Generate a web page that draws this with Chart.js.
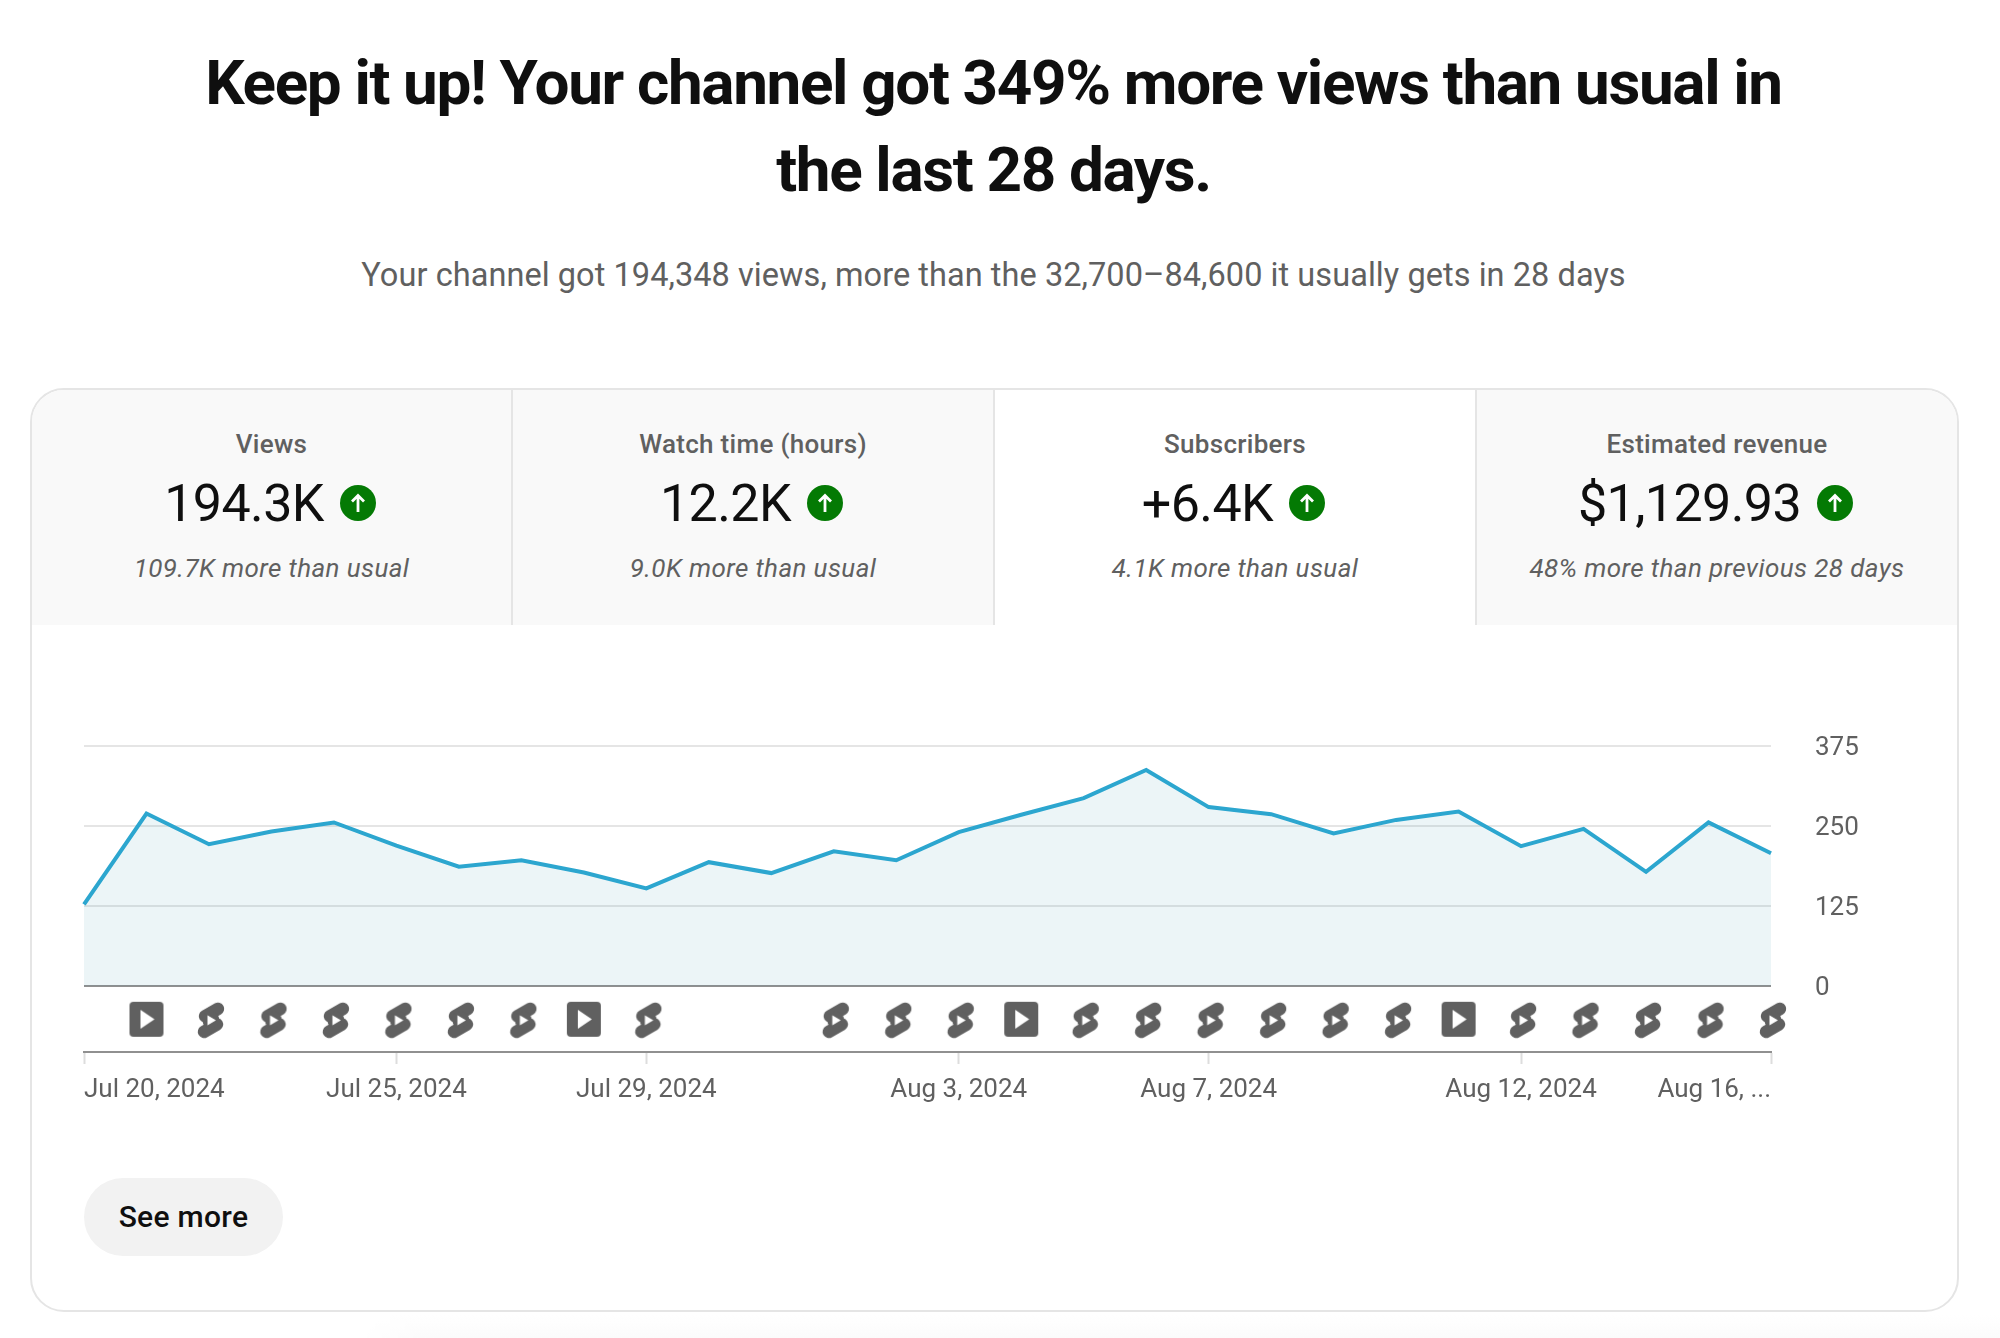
<!DOCTYPE html>
<html lang="en">
<head>
  <meta charset="UTF-8">
  <title>Channel views</title>
  <script src="https://cdn.jsdelivr.net/npm/chart.js"></script>
  <style>
    html, body { margin: 0; background: #fff; }
    body { position: relative; width: 2000px; height: 1338px; overflow: hidden; font-family: Roboto, sans-serif; color: #0f0f0f; }
    h1 {
      position: absolute; left: 0; top: 39px; width: 1987px; margin: 0;
      text-align: center; font-size: 62px; line-height: 87px; font-weight: 700; letter-spacing: -1.35px;
    }
    .sub {
      position: absolute; left: 0; top: 255px; width: 1987px;
      text-align: center; font-size: 32.5px; line-height: 40px; letter-spacing: .06px; color: #606060;
    }
    .card {
      position: absolute; left: 30px; top: 388px; width: 1925px; height: 920px;
      border: 2px solid #e5e5e5; border-radius: 34px; overflow: hidden;
    }
    .tab {
      position: absolute; top: 0; height: 235px; background: #f9f9f9;
      border-right: 2px solid #e5e5e5; text-align: center; box-sizing: border-box;
    }
    .tab.active { background: #fff; }
    .tab:last-child { border-right: none; }
    .tab .name { position: absolute; left: 0; right: 0; top: 38px; line-height: 32px; font-size: 26px; letter-spacing: .3px; font-weight: 500; color: #606060; }
    .tab .val {
      position: absolute; left: -3px; right: 0; top: 80px; height: 66px;
      display: flex; justify-content: center; align-items: center; gap: 16px;
      font-size: 52px; letter-spacing: -.6px;
    }
    .tab .up { width: 36px; height: 36px; display: block; }
    .tab .note { position: absolute; left: 0; right: 0; top: 162px; line-height: 32px; font-size: 26px; letter-spacing: .4px; font-style: italic; color: #606060; }
    #wrap { position: absolute; left: 60px; top: 686px; width: 1880px; height: 434px; }
    .more {
      position: absolute; left: 84px; top: 1178px; width: 199px; height: 78px;
      border-radius: 39px; background: #f2f2f2; text-align: center;
      line-height: 78px; font-size: 30px; letter-spacing: .3px; font-weight: 500; color: #0f0f0f;
    }
    .shade {
      position: absolute; left: 360px; right: 0; top: 1315px; height: 23px;
      background: linear-gradient(#fff, #fbfbfb);
      -webkit-mask-image: linear-gradient(to right, transparent, #000 60px);
    }
  </style>
</head>
<body>
  <h1>Keep it up! Your channel got 349% more views than usual in<br>the last 28 days.</h1>
  <div class="sub">Your channel got 194,348 views, more than the 32,700–84,600 it usually gets in 28 days</div>
  <div class="card" id="card"></div>
  <div id="wrap"><canvas id="chart"></canvas></div>
  <div class="more">See more</div>
  <div class="shade"></div>

  <script>
    const days = ['Jul 20', 'Jul 21', 'Jul 22', 'Jul 23', 'Jul 24', 'Jul 25', 'Jul 26', 'Jul 27', 'Jul 28', 'Jul 29',
      'Jul 30', 'Jul 31', 'Aug 1', 'Aug 2', 'Aug 3', 'Aug 4', 'Aug 5', 'Aug 6', 'Aug 7', 'Aug 8',
      'Aug 9', 'Aug 10', 'Aug 11', 'Aug 12', 'Aug 13', 'Aug 14', 'Aug 15', 'Aug 16'];
    const views = [127, 269, 221, 241, 255, 219, 186, 196, 177, 152,
      193, 176, 210, 196, 240, 267, 293, 337, 279, 268,
      238, 259, 272, 218, 245, 178, 255, 207];
    // what was published that day: v = video, s = short
    const uploads = ['', 'v', 's', 's', 's', 's', 's', 's', 'v', 's',
      '', '', 's', 's', 's', 'v', 's', 's', 's', 's',
      's', 's', 'v', 's', 's', 's', 's', 's'];
    const yTicks = [0, 125, 250, 375];
    const xTickDays = ['Jul 20', 'Jul 25', 'Jul 29', 'Aug 3', 'Aug 7', 'Aug 12', 'Aug 16'];
    const xTickLabels = ['Jul 20, 2024', 'Jul 25, 2024', 'Jul 29, 2024', 'Aug 3, 2024', 'Aug 7, 2024', 'Aug 12, 2024', 'Aug 16, ...'];

    const tabNames = ['Views', 'Watch time (hours)', 'Subscribers', 'Estimated revenue'];
    const tabValues = ['194.3K', '12.2K', '+6.4K', '$1,129.93'];
    const tabNotes = ['109.7K more than usual', '9.0K more than usual', '4.1K more than usual', '48% more than previous 28 days'];

    const upArrow = '<svg class="up" viewBox="0 0 36 36"><circle cx="18" cy="18" r="18" fill="#047a04"/>' +
      '<path d="M18 27V11M12 16.5L18 10.5L24 16.5" fill="none" stroke="#fff" stroke-width="2.8"/></svg>';

    const tabLefts = [0, 481, 963, 1445];
    const tabWidths = [481, 482, 482, 480];
    const card = document.getElementById('card');
    tabNames.forEach((name, i) => {
      const tab = document.createElement('div');
      tab.className = 'tab' + (i === 2 ? ' active' : '');
      tab.style.left = tabLefts[i] + 'px';
      tab.style.width = tabWidths[i] + 'px';
      tab.innerHTML = `<div class="name">${name}</div>` +
        `<div class="val"><span>${tabValues[i]}</span>${upArrow}</div>` +
        `<div class="note">${tabNotes[i]}</div>`;
      card.appendChild(tab);
    });

    function videoIcon() {
      const c = document.createElement('canvas');
      c.width = c.height = 44;
      const g = c.getContext('2d');
      g.fillStyle = '#606060';
      g.beginPath();
      g.roundRect(5, 4, 34, 35, 4);
      g.fill();
      g.fillStyle = '#fff';
      g.beginPath();
      g.moveTo(16, 12);
      g.lineTo(30, 21.5);
      g.lineTo(16, 31);
      g.closePath();
      g.fill();
      return c;
    }

    function shortIcon() {
      const c = document.createElement('canvas');
      c.width = c.height = 44;
      const g = c.getContext('2d');
      g.translate(24, 22.5);
      g.strokeStyle = '#606060';
      g.fillStyle = '#606060';
      g.lineWidth = 12.5;
      g.lineCap = 'round';
      g.beginPath();
      g.moveTo(7, -11.5);
      g.lineTo(-6, -4);
      g.moveTo(-7, 11.5);
      g.lineTo(6, 4);
      g.stroke();
      g.beginPath();
      g.arc(0, 0, 8.5, 0, Math.PI * 2);
      g.fill();
      g.fillStyle = '#fff';
      g.beginPath();
      g.moveTo(-3.5, -5);
      g.lineTo(5, 0);
      g.lineTo(-3.5, 5);
      g.closePath();
      g.fill();
      return c;
    }

    const icons = { v: videoIcon(), s: shortIcon() };
    const iconRowValue = -53; // sits under the zero line
    const gridGrey = '#e5e5e5';
    const axisGrey = '#909090';
    const textGrey = '#606060';

    new Chart(document.getElementById('chart'), {
      type: 'line',
      data: {
        labels: days,
        datasets: [
          {
            data: views,
            borderColor: '#2ca6cf',
            backgroundColor: 'rgba(44, 140, 170, 0.09)',
            borderWidth: 4,
            borderJoinStyle: 'miter',
            tension: 0,
            pointRadius: 0,
            fill: 'origin'
          },
          {
            data: uploads.map((u) => (u ? iconRowValue : null)),
            showLine: false,
            clip: false,
            pointRadius: 22,
            pointStyle: (ctx) => icons[uploads[ctx.dataIndex]] || false
          }
        ]
      },
      options: {
        responsive: true,
        maintainAspectRatio: false,
        animation: false,
        layout: { padding: { left: 24, top: 24, right: 0, bottom: 0 } },
        plugins: { legend: { display: false }, tooltip: { enabled: false } },
        scales: {
          x: {
            afterBuildTicks: (scale) => {
              scale.ticks = scale.ticks.filter((t) => xTickDays.includes(days[t.value]));
            },
            afterFit: (scale) => { scale.height = 68; },
            border: { color: axisGrey, width: 2 },
            grid: { drawOnChartArea: false, tickColor: '#dddddd', tickWidth: 2, tickLength: 12 },
            ticks: {
              autoSkip: false,
              maxRotation: 0,
              align: 'inner',
              padding: 11,
              color: textGrey,
              font: { family: 'Roboto', size: 26 },
              callback: function (value) {
                return xTickLabels[xTickDays.indexOf(days[value])];
              }
            }
          },
          y: {
            position: 'right',
            min: -103.3,
            max: 375,
            afterBuildTicks: (scale) => { scale.ticks = yTicks.map((v) => ({ value: v })); },
            afterFit: (scale) => { scale.width = 169; },
            border: { display: false },
            grid: {
              drawTicks: false,
              lineWidth: 2,
              color: (ctx) => (ctx.tick.value === 0 ? axisGrey : gridGrey)
            },
            ticks: {
              crossAlign: 'near',
              padding: 44,
              labelOffset: 3,
              color: textGrey,
              font: { family: 'Roboto', size: 26 }
            }
          }
        }
      }
    });
  </script>
</body>
</html>
